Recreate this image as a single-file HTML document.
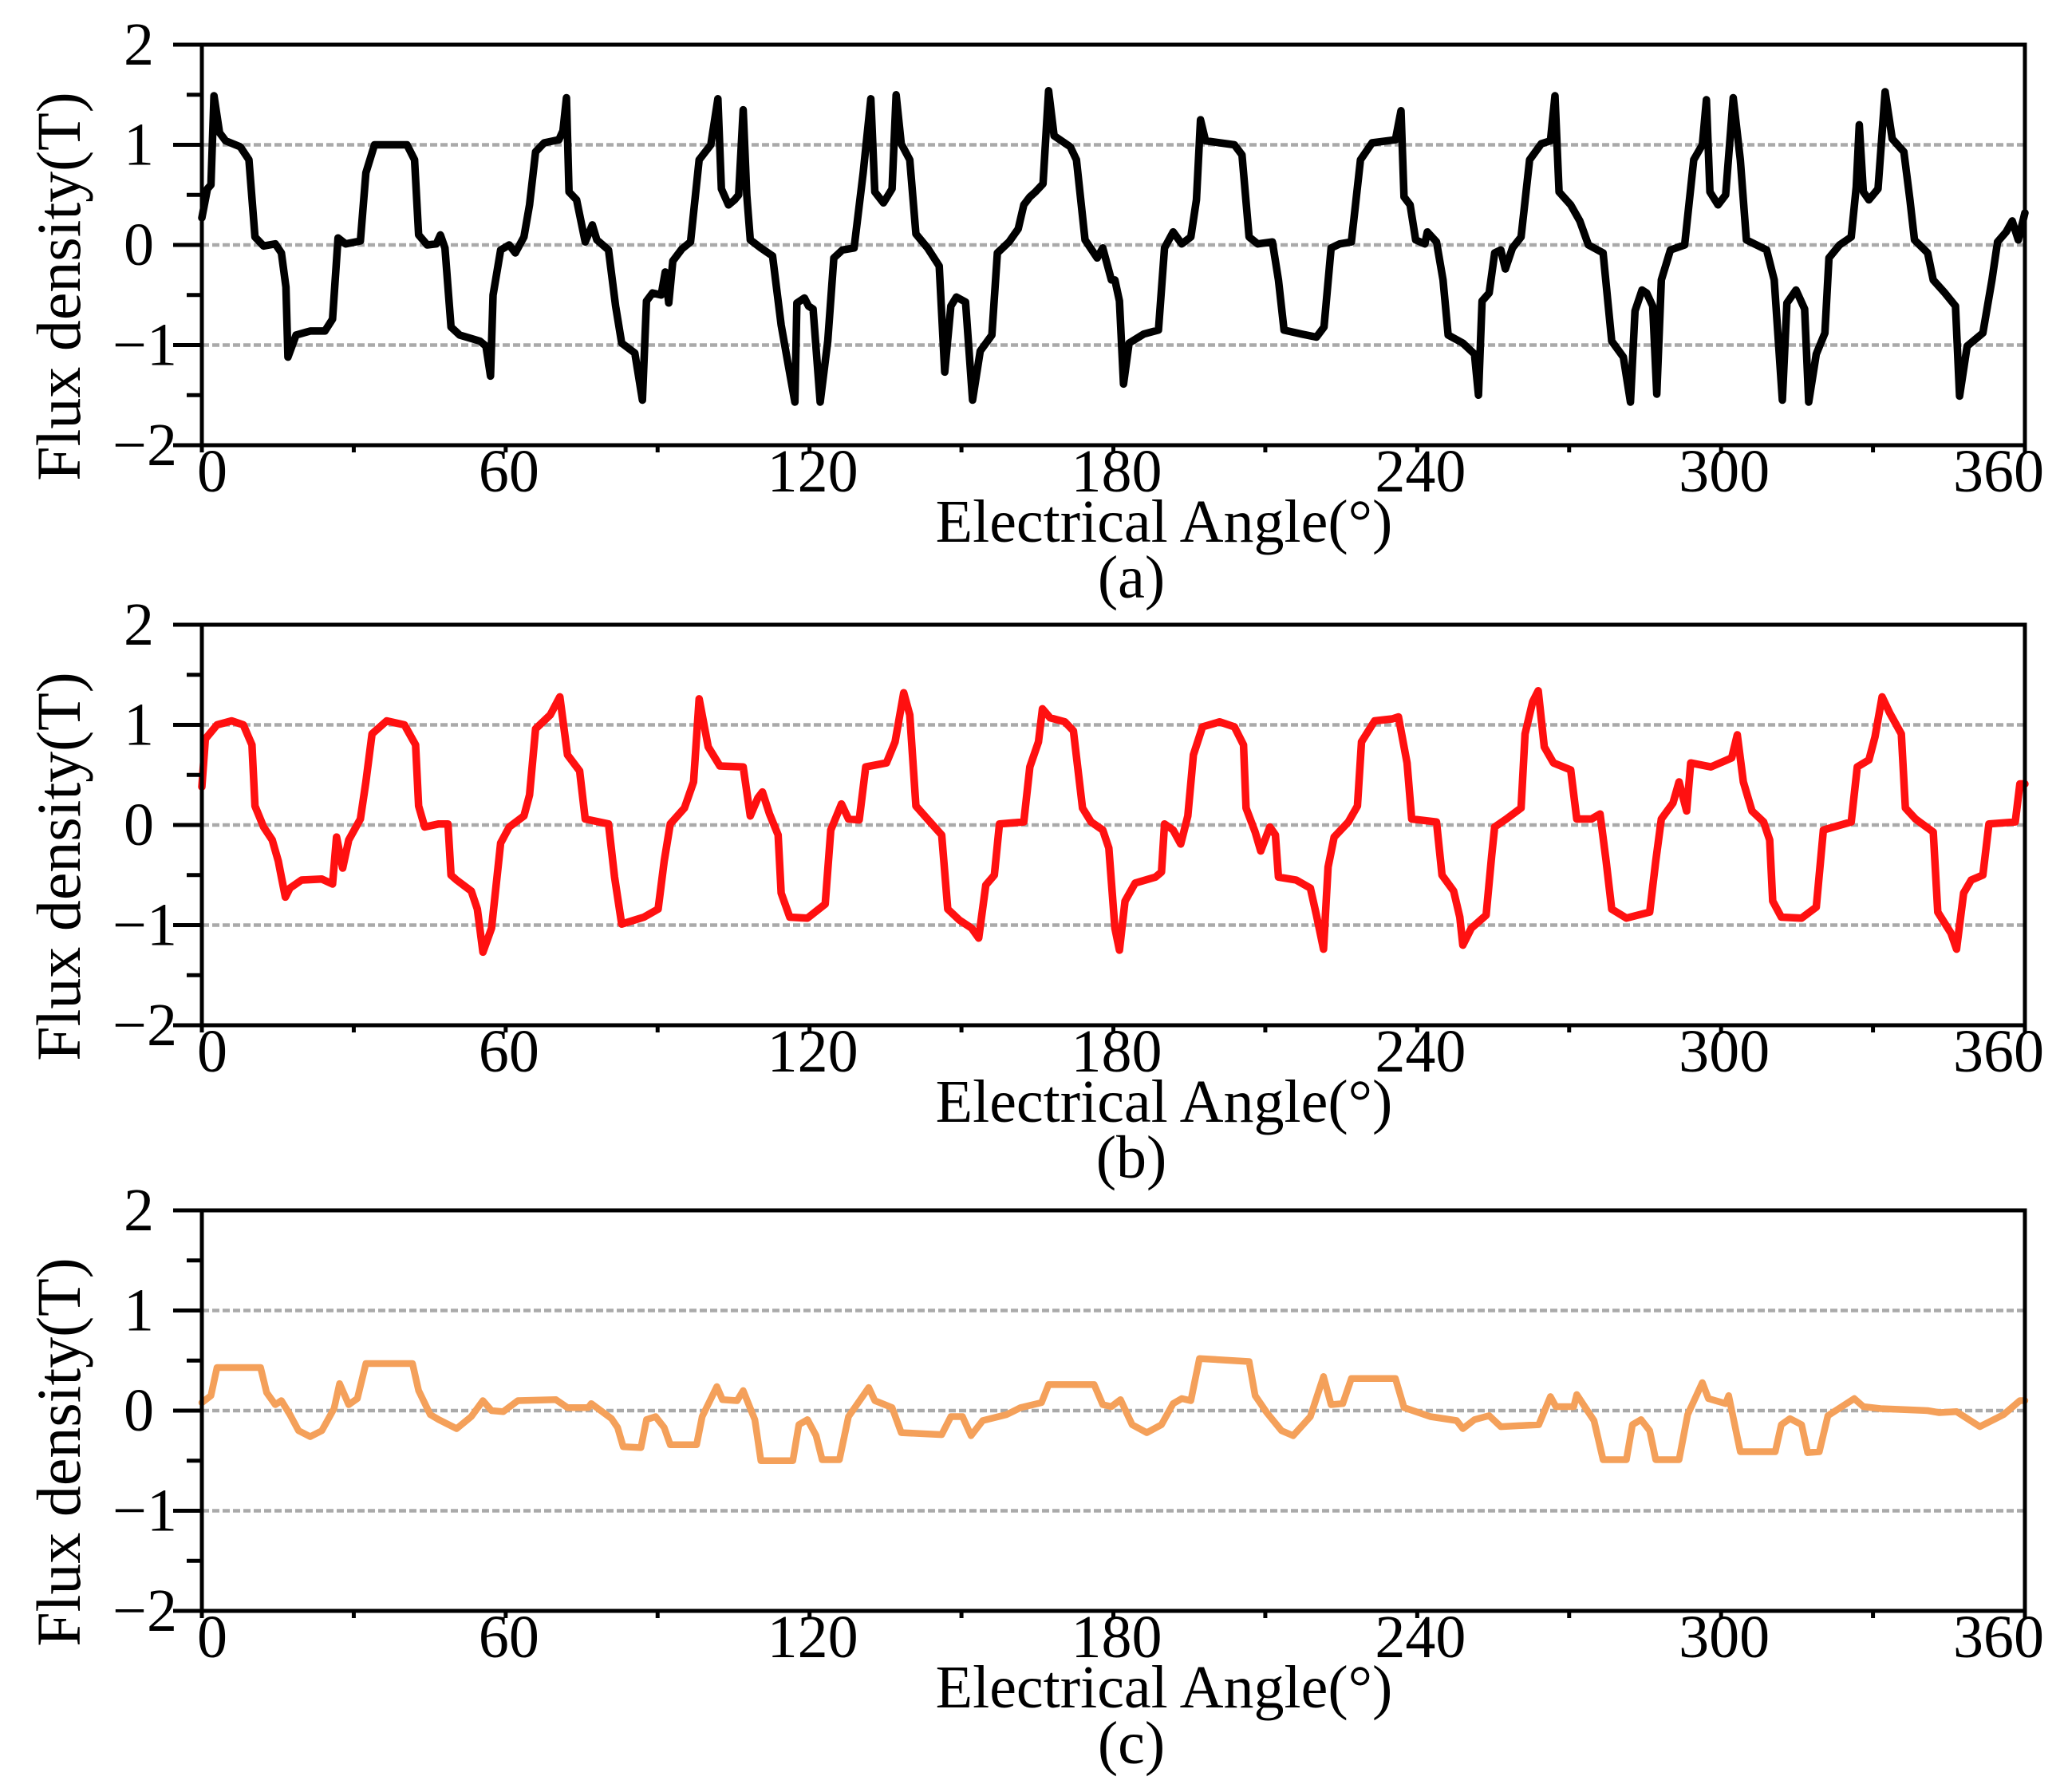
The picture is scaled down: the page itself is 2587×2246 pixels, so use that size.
<!DOCTYPE html>
<html>
<head>
<meta charset="utf-8">
<style>
  html, body { margin: 0; padding: 0; background: #ffffff; }
  svg { display: block; }
  text { font-family: "Liberation Serif", "Times New Roman", serif; fill: #000; }
</style>
</head>
<body>
<svg id="chart" width="2587" height="2246" viewBox="0 0 2587 2246" xmlns="http://www.w3.org/2000/svg"></svg>
<script>
// ---- Data (angle in degrees, flux density in T) ----
const xTickValues = [0, 60, 120, 180, 240, 300, 360];
const xTickLabels = ["0", "60", "120", "180", "240", "300", "360"];
const yTickValues = [2, 1, 0, -1, -2];
const yTickLabels = ["2", "1", "0", "\u22121", "\u22122"];
const gridValues = [1, 0, -1];
const panelLabels = ["(a)", "(b)", "(c)"];

const angleA = [0,1.1,1.8,2.4,3.5,4.7,7.6,9.3,10.5,12.2,14.5,15.7,16.6,17.0,18.6,21.4,24.3,25.8,26.9,28.4,31.3,32.4,34.1,40.5,42,42.8,44.5,46.3,47.1,48,49.2,50.9,54.9,56.1,57,57.5,59,60.7,61.9,63.6,64.7,65.9,67.6,70.5,71.3,72,72.5,74,75.7,77.1,78,80.3,81.7,82.9,85.5,87,87.8,89,90.7,91.5,92.2,93,94.8,96.5,98.2,100.5,101.9,102.6,104,105.2,106,106.9,107.6,108.3,110.4,112.7,114.4,117.1,117.5,119,119.8,120.7,122.1,123.6,124.8,126.5,128.8,130.6,132.1,132.9,134.6,136.3,137.1,138.1,139.8,141,143.3,145.6,146.7,147.9,149,150.8,152.2,153.7,156,157.1,159.4,161.2,162.3,163.5,164.6,166.1,167.2,168.3,171.5,172.7,174.4,176.8,177.9,179.6,180.3,181.2,182,183.1,186,188.9,190.1,191.8,193.5,195.3,196.4,197.2,198.2,203.9,205.4,206.8,208.5,211.4,212.6,213.7,217.2,220.1,221.6,223,224.7,227,228.8,231.1,235.7,236.8,237.4,238.6,239.7,241.5,242,243.8,245.1,246.1,249,251.3,252.1,252.8,254.2,255.3,256.5,257.4,258.8,260.5,262.2,264.5,266.3,267.2,268,270.3,272.1,273.8,276.7,278.4,280.7,282.1,283,284.4,285.3,286.5,287.3,288.2,290,292.8,294.6,296.3,297.1,297.8,299.4,300.9,302.4,303.8,305,309,310.5,312.1,313,314.8,316.5,317.3,318.8,320.5,321.3,323.4,325.7,326.7,327.3,328.1,329.2,331,332.4,333.8,336.1,337.3,338.2,340.8,341.9,344.2,346.3,347.1,348.6,351.7,353.5,354.6,356.3,357.5,358.7,360];
const fluxA = [0.27,0.56,0.6,1.49,1.12,1.04,0.98,0.85,0.08,-0.01,0.01,-0.08,-0.42,-1.12,-0.9,-0.86,-0.86,-0.74,0.07,0.01,0.04,0.72,1.0,1.0,0.85,0.1,0,0.01,0.1,-0.03,-0.82,-0.9,-0.96,-1.01,-1.31,-0.5,-0.05,0,-0.08,0.08,0.4,0.93,1.02,1.05,1.14,1.47,0.53,0.45,0.03,0.2,0.05,-0.05,-0.61,-0.98,-1.08,-1.55,-0.56,-0.48,-0.5,-0.27,-0.58,-0.16,-0.04,0.03,0.85,1.0,1.46,0.56,0.4,0.45,0.5,1.35,0.5,0.05,-0.03,-0.11,-0.8,-1.57,-0.58,-0.53,-0.61,-0.64,-1.57,-0.96,-0.13,-0.05,-0.03,0.72,1.46,0.53,0.42,0.56,1.5,1.01,0.85,0.11,-0.03,-0.21,-1.27,-0.61,-0.52,-0.57,-1.55,-1.06,-0.9,-0.08,0.03,0.16,0.4,0.48,0.53,0.61,1.54,1.09,0.98,0.85,0.05,-0.13,-0.03,-0.35,-0.35,-0.56,-1.39,-0.98,-0.89,-0.85,-0.03,0.13,0.01,0.08,0.45,1.25,1.04,1.0,0.9,0.08,0.01,0.03,-0.35,-0.85,-0.89,-0.92,-0.82,-0.03,0.01,0.03,0.85,1.02,1.05,1.34,0.48,0.4,0.05,0.01,0.13,0.03,-0.35,-0.9,-0.98,-1.09,-1.5,-0.56,-0.48,-0.08,-0.05,-0.24,-0.03,0.08,0.85,1.01,1.04,1.49,0.53,0.4,0.24,0,-0.08,-0.96,-1.12,-1.57,-0.66,-0.45,-0.48,-0.61,-1.49,-0.35,-0.05,0,0.85,1.0,1.45,0.53,0.4,0.5,1.47,0.85,0.05,-0.05,-0.35,-1.55,-0.58,-0.45,-0.64,-1.57,-1.09,-0.88,-0.13,0,0.08,0.58,1.2,0.53,0.45,0.56,1.53,1.06,0.93,0.45,0.05,-0.08,-0.35,-0.48,-0.61,-1.51,-1.01,-0.88,-0.35,0.03,0.13,0.24,0.05,0.32];

const angleB = [0,0.7,3,5.9,8.2,9.9,10.5,12.2,13.9,15.1,15.7,16.5,17.4,19.7,23.7,25.8,26.6,27.8,29,31.3,32.4,33.6,36.5,40,42.2,42.8,44,46.8,48.6,49.2,50.3,53.2,54.4,55.5,57.2,59,60.7,63.6,64.7,65.9,68.8,70.7,72.2,74.6,75.7,80.3,81.5,82.9,87.3,90.1,91.3,92.5,95.3,97.1,98.2,100,102.3,106.9,108.3,109.8,110.7,112.1,113.8,114.4,116.1,119.6,123.1,124.2,126.3,127.7,129.8,131.1,135.2,136.9,138.6,139.8,141,143.8,146.1,147.3,149.6,152,153.4,154.8,156.5,157.5,162.3,163.5,165.2,166,167.5,170.4,172.1,173.9,175.6,177.9,179.1,180.3,181.2,182.3,184.3,188.3,189.5,190.1,191.8,193.3,194.7,195.8,197.6,201,203.9,205.7,206.2,208,209.1,210.9,212,212.6,216.1,218.9,220.1,221.5,222.4,223.6,226.4,228.2,229,231.6,235.1,236.3,238,238.9,243.8,244.9,247.2,248.4,249,250.7,253.6,254.7,255.3,257.6,260.5,261.3,262.8,263.9,265.1,266.9,270.3,271.5,274.4,276.1,277.3,278.4,281.3,285.9,287.1,288.2,290.5,291.7,293.2,294,298,302.1,303.2,304.4,306.1,308.4,309.6,310.2,311.9,315.9,318.8,320.2,325.7,326.9,329.2,330.4,331.8,333.3,335.6,336.4,338.4,341.9,342.8,345.4,346.5,347.9,349.4,351.7,352.9,358.1,359,360];
const fluxB = [0.38,0.86,1.0,1.04,1.0,0.8,0.19,-0.02,-0.15,-0.36,-0.52,-0.72,-0.63,-0.55,-0.54,-0.59,-0.12,-0.43,-0.15,0.06,0.43,0.91,1.04,1.0,0.8,0.19,-0.02,0.01,0.01,-0.5,-0.55,-0.66,-0.84,-1.27,-1.03,-0.18,-0.02,0.09,0.3,0.96,1.1,1.28,0.7,0.54,0.06,0.01,-0.52,-0.99,-0.92,-0.84,-0.36,0.01,0.17,0.43,1.26,0.78,0.59,0.58,0.09,0.27,0.33,0.11,-0.1,-0.68,-0.92,-0.93,-0.79,-0.05,0.21,0.06,0.05,0.58,0.62,0.83,1.32,1.1,0.19,0.03,-0.1,-0.84,-0.95,-1.03,-1.13,-0.6,-0.5,0.01,0.03,0.58,0.83,1.16,1.07,1.03,0.94,0.17,0.03,-0.05,-0.23,-1.03,-1.25,-0.76,-0.58,-0.52,-0.47,0.01,-0.05,-0.19,0.09,0.7,0.98,1.03,0.98,0.8,0.17,-0.07,-0.26,-0.02,-0.1,-0.52,-0.55,-0.63,-0.9,-1.24,-0.42,-0.12,0.03,0.19,0.83,1.04,1.06,1.08,0.62,0.06,0.03,-0.5,-0.66,-0.92,-1.2,-1.03,-0.9,-0.31,-0.02,0.06,0.17,0.91,1.23,1.34,0.78,0.62,0.55,0.06,0.06,0.11,-0.36,-0.84,-0.93,-0.87,-0.36,0.06,0.22,0.43,0.14,0.62,0.58,0.67,0.9,0.43,0.14,0.03,-0.15,-0.76,-0.92,-0.93,-0.82,-0.05,0.03,0.58,0.65,0.88,1.28,1.12,0.91,0.17,0.06,-0.07,-0.87,-1.08,-1.24,-0.68,-0.55,-0.5,0.01,0.03,0.41,0.41];

const angleC = [0,1.8,3,11.6,12.8,14.5,15.7,17.4,19.1,21.4,23.7,26.1,27.2,29,30.7,32.4,41.6,42.8,45.1,46.8,50.3,53.2,55.5,57.2,59.5,62.4,69.9,72.2,76.3,76.9,80.9,82.1,83.2,86.7,87.8,89.6,91.3,92.5,97.7,98.8,101.7,102.8,105.7,106.9,109.2,110.4,116.7,117.9,119.6,121.3,122.5,125.9,127.7,130.6,131.7,132.9,136.3,138.1,146.1,147.9,150.2,151.9,154.2,158.9,161.7,165.8,167.2,176.2,177.9,179.6,181.4,183.7,186.6,189.5,191.8,193.5,195.3,197,206.8,208,210.3,213.2,215.5,218.9,221.5,223,225.3,227,235.7,237.4,242.6,247.8,249,251.3,254.2,256.5,264,266.3,267.4,270.9,271.5,274.9,276.7,281.3,282.5,284.2,285.9,287.1,291.7,293.4,296.3,297.5,300.9,301.5,303.8,310.7,311.9,313.6,315.9,317.1,319.4,321.1,326.3,328.1,331.5,340.8,343.1,346.5,351.1,355.8,359,360];
const fluxC = [0.08,0.15,0.43,0.43,0.18,0.06,0.1,-0.04,-0.2,-0.26,-0.2,0.02,0.27,0.06,0.12,0.47,0.47,0.2,-0.04,-0.09,-0.18,-0.06,0.1,0,-0.01,0.1,0.11,0.03,0.03,0.07,-0.08,-0.17,-0.36,-0.37,-0.09,-0.06,-0.17,-0.34,-0.34,-0.06,0.24,0.11,0.1,0.2,-0.09,-0.5,-0.5,-0.14,-0.09,-0.25,-0.49,-0.49,-0.06,0.15,0.23,0.1,0.03,-0.22,-0.24,-0.06,-0.06,-0.25,-0.1,-0.04,0.03,0.08,0.26,0.26,0.06,0.04,0.11,-0.14,-0.22,-0.14,0.07,0.12,0.1,0.52,0.49,0.15,-0.02,-0.2,-0.25,-0.06,0.34,0.06,0.07,0.32,0.32,0.03,-0.06,-0.1,-0.18,-0.09,-0.05,-0.16,-0.14,0.14,0.04,0.04,0.16,-0.1,-0.49,-0.49,-0.14,-0.09,-0.2,-0.49,-0.49,-0.04,0.28,0.12,0.07,0.15,-0.41,-0.41,-0.14,-0.08,-0.14,-0.42,-0.41,-0.05,0.12,0.04,0.02,0,-0.02,-0.01,-0.16,-0.04,0.1,0.1];

// ---- Layout ----
const svg = document.getElementById('chart');
const NS = 'http://www.w3.org/2000/svg';
const X0 = 253, X1 = 2538, PH = 502;
const panelTops = [56, 783, 1517];
const series = [
  { angles: angleA, flux: fluxA, color: '#000000', width: 9.5, name: 'flux-a' },
  { angles: angleB, flux: fluxB, color: '#ff1010', width: 9.5, name: 'flux-b' },
  { angles: angleC, flux: fluxC, color: '#f4a05a', width: 8.5, name: 'flux-c' }
];

function mk(tag, attrs, parent) {
  const el = document.createElementNS(NS, tag);
  for (const k in attrs) el.setAttribute(k, attrs[k]);
  (parent || svg).appendChild(el);
  return el;
}
function xScale(a) { return X0 + (a / 360) * (X1 - X0); }
function yScaleFor(top) { return v => top + (2 - v) / 4 * PH; }

panelTops.forEach((top, p) => {
  const y = yScaleFor(top);
  const bottom = top + PH;
  const g = mk('g', {});
  
  

  gridValues.forEach(v => {
    const l = mk('line', { x1: X0, x2: X1, y1: y(v), y2: y(v), stroke: '#aaaaaa', 'stroke-width': 4.5, 'stroke-dasharray': '9 4' }, g);
    
    
  });

  const s = series[p];
  let d = '';
  for (let i = 0; i < s.angles.length; i++) {
    d += (i ? 'L' : 'M') + xScale(s.angles[i]).toFixed(1) + ' ' + y(s.flux[i]).toFixed(1);
  }
  const path = mk('path', { d: d, fill: 'none', stroke: s.color, 'stroke-width': s.width, 'stroke-linejoin': 'round', 'stroke-linecap': 'round' }, g);
  
  

  const frame = mk('rect', { x: X0, y: top, width: X1 - X0, height: PH, fill: 'none', stroke: '#000', 'stroke-width': 5 }, g);
  
  

  for (let v = -2; v <= 2; v += 0.5) {
    const major = Number.isInteger(v);
    const t = mk('line', { x1: major ? 217 : 234, x2: X0, y1: y(v), y2: y(v), stroke: '#000', 'stroke-width': 5 }, g);
    
    
  }
  yTickValues.forEach((v, i) => {
    const neg = v < 0;
    const t = mk('text', { x: neg ? 222 : 193, y: y(v), 'font-size': 76, 'text-anchor': 'end', 'dominant-baseline': 'central' }, g);
    t.textContent = yTickLabels[i];
    
    
  });

  for (let a = 0; a <= 360; a += 30) {
    const t = mk('line', { x1: xScale(a), x2: xScale(a), y1: bottom, y2: bottom + 9, stroke: '#000', 'stroke-width': 5 }, g);
    
    
  }
  xTickValues.forEach((a, i) => {
    let off = 4;
    if (a === 0) off = 13;
    if (a === 360) off = -33;
    const t = mk('text', { x: xScale(a) + off, y: bottom + 58, 'font-size': 76, 'text-anchor': 'middle' }, g);
    t.textContent = xTickLabels[i];
    
    
  });

  const yc = top + PH / 2 + 52;
  const yt = mk('text', { x: 0, y: 0, 'font-size': 78, 'text-anchor': 'middle', transform: 'translate(100 ' + yc + ') rotate(-90)' }, g);
  yt.textContent = 'Flux density(T)';
  
  

  const xt = mk('text', { x: 1459, y: bottom + 121, 'font-size': 76, 'text-anchor': 'middle' }, g);
  xt.textContent = 'Electrical Angle(\u00B0)';
  
  

  const pl = mk('text', { x: 1418, y: bottom + 191, 'font-size': 76, 'text-anchor': 'middle' }, g);
  pl.textContent = panelLabels[p];
  
  
});
</script>
</body>
</html>
